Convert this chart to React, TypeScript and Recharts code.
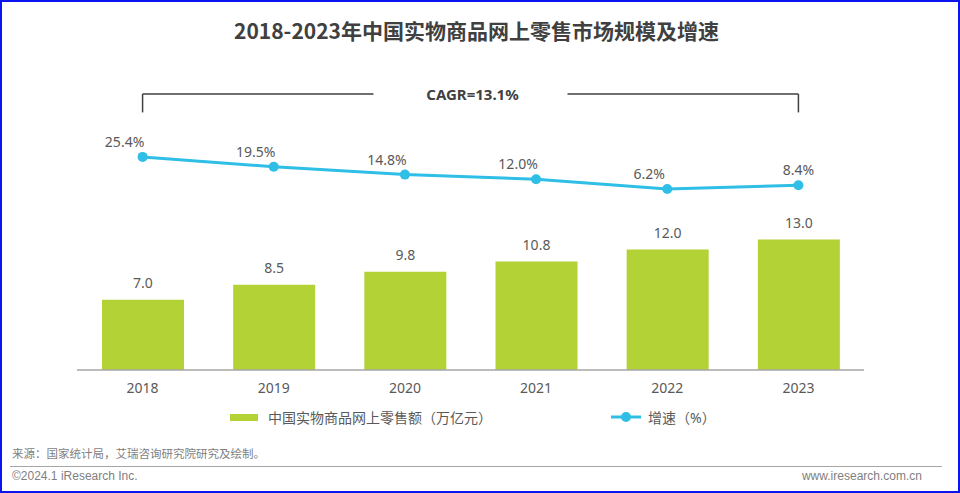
import React from "react";
import {
  Bar,
  ComposedChart,
  LabelList,
  Line,
  ReferenceLine,
  XAxis,
  YAxis,
} from "recharts";

const years = ["2018", "2019", "2020", "2021", "2022", "2023"];
const sales = [7.0, 8.5, 9.8, 10.8, 12.0, 13.0];
const growth = [25.4, 19.5, 14.8, 12.0, 6.2, 8.4];
const cagrText = "CAGR=13.1%";

const title = "2018-2023年中国实物商品网上零售市场规模及增速";
const salesName = "中国实物商品网上零售额（万亿元）";
const growthName = "增速（%）";
const source = "来源：国家统计局，艾瑞咨询研究院研究及绘制。";

const data = years.map((year, i) => ({
  year,
  sales: sales[i],
  growth: growth[i],
}));

const GREEN = "#b2d235";
const BLUE = "#2ebee6";
const TEXT = "#595959";
const DARK = "#404040";
const FONT = "'Noto Sans', 'Noto Sans CJK SC', sans-serif";

// bracket height on the growth axis
const BRACKET_TOP = 63;
const BRACKET_BOTTOM = 52;

const GrowthLabel = (props: any) => {
  const { x, y, value, index } = props;
  const last = index === growth.length - 1 || value === growth[growth.length - 1];
  return (
    <text
      x={x + (last ? 0 : -18)}
      y={y - 15}
      dy="0.35em"
      textAnchor="middle"
      fill={TEXT}
      fontSize={14}
    >
      {value.toFixed(1)}%
    </text>
  );
};

const CagrLabel = (props: any) => {
  const vb = props.viewBox || {};
  const cx = vb.x + (vb.width || 0) / 2;
  const cy = vb.y + (vb.height || 0) / 2;
  return (
    <g>
      <rect x={cx - 97} y={cy - 10} width={194} height={20} fill="#fff" />
      <text
        x={cx + 2}
        y={cy + 1}
        dy="0.35em"
        textAnchor="middle"
        fill={DARK}
        fontSize={15}
        fontWeight={700}
      >
        {cagrText}
      </text>
    </g>
  );
};

export default function App() {
  return (
    <div
      style={{
        position: "absolute",
        left: 0,
        top: 0,
        width: 960,
        height: 493,
        background: "#fff",
        fontFamily: FONT,
        overflow: "hidden",
      }}
    >
      <div
        style={{
          position: "absolute",
          top: 17,
          left: 0,
          width: 953,
          textAlign: "center",
          fontSize: 21,
          fontWeight: 700,
          color: DARK,
          fontFamily: "'Noto Sans CJK SC', sans-serif",
          lineHeight: "26px",
        }}
      >
        {title}
      </div>

      <div style={{ position: "absolute", left: 0, top: 0 }}>
        <ComposedChart
          width={960}
          height={400}
          data={data}
          margin={{ top: 99, right: 96, left: 77, bottom: 0 }}
        >
          <XAxis
            dataKey="year"
            height={30}
            tickLine={false}
            tickMargin={7}
            axisLine={{ stroke: "#a6a6a6", strokeWidth: 1.5 }}
            tick={{ fill: TEXT, fontSize: 14 }}
          />
          <YAxis yAxisId="left" hide domain={[0, 27]} />
          <YAxis yAxisId="right" orientation="right" hide domain={[-102, 60]} />
          <Bar
            yAxisId="left"
            dataKey="sales"
            fill={GREEN}
            barSize={82}
            isAnimationActive={false}
          >
            <LabelList
              dataKey="sales"
              position="top"
              offset={12}
              fill={TEXT}
              fontSize={14}
              formatter={(v: any) => Number(v).toFixed(1)}
            />
          </Bar>
          <Line
            yAxisId="right"
            dataKey="growth"
            stroke={BLUE}
            strokeWidth={3}
            dot={{ r: 5, fill: BLUE, stroke: BLUE, strokeWidth: 0 }}
            activeDot={false}
            isAnimationActive={false}
          >
            <LabelList dataKey="growth" content={GrowthLabel} />
          </Line>
          <ReferenceLine
            yAxisId="right"
            ifOverflow="visible"
            segment={[
              { x: years[0], y: BRACKET_BOTTOM },
              { x: years[0], y: BRACKET_TOP },
            ]}
            stroke={DARK}
            strokeWidth={1.5}
          />
          <ReferenceLine
            yAxisId="right"
            ifOverflow="visible"
            segment={[
              { x: years[years.length - 1], y: BRACKET_BOTTOM },
              { x: years[years.length - 1], y: BRACKET_TOP },
            ]}
            stroke={DARK}
            strokeWidth={1.5}
          />
          <ReferenceLine
            yAxisId="right"
            ifOverflow="visible"
            segment={[
              { x: years[0], y: BRACKET_TOP },
              { x: years[years.length - 1], y: BRACKET_TOP },
            ]}
            stroke={DARK}
            strokeWidth={1.5}
            label={<CagrLabel />}
          />
        </ComposedChart>
      </div>

      {/* legend */}
      <div
        style={{
          position: "absolute",
          top: 408,
          left: 230,
          height: 18,
          display: "flex",
          alignItems: "center",
          fontSize: 14,
          color: TEXT,
        }}
      >
        <span
          style={{ width: 28, height: 7, background: GREEN, marginRight: 10 }}
        />
        <span>{salesName}</span>
      </div>
      <div
        style={{
          position: "absolute",
          top: 408,
          left: 611,
          height: 18,
          display: "flex",
          alignItems: "center",
          fontSize: 14,
          color: TEXT,
        }}
      >
        <svg width={30} height={12} style={{ marginRight: 7 }}>
          <line x1={0} y1={6} x2={30} y2={6} stroke={BLUE} strokeWidth={3} />
          <circle cx={15} cy={6} r={5} fill={BLUE} />
        </svg>
        <span>{growthName}</span>
      </div>

      {/* footer */}
      <div
        style={{
          position: "absolute",
          top: 446,
          left: 12,
          fontSize: 11.5,
          color: "#7f7f7f",
          lineHeight: "15px",
          fontFamily: "'Noto Sans CJK SC', sans-serif",
        }}
      >
        {source}
      </div>
      <div
        style={{
          position: "absolute",
          top: 466,
          left: 10,
          width: 932,
          height: 1,
          background: "#a6a6a6",
        }}
      />
      <div
        style={{
          position: "absolute",
          top: 469,
          left: 12,
          fontSize: 12,
          color: "#808080",
          lineHeight: "15px",
          fontFamily: "'Liberation Sans Narrow', 'Liberation Sans', sans-serif",
        }}
      >
        ©2024.1 iResearch Inc.
      </div>
      <div
        style={{
          position: "absolute",
          top: 469,
          right: 38,
          fontSize: 12,
          color: "#808080",
          lineHeight: "15px",
          fontFamily: "'Liberation Sans Narrow', 'Liberation Sans', sans-serif",
        }}
      >
        www.iresearch.com.cn
      </div>

      {/* frame */}
      <div
        style={{
          position: "absolute",
          inset: 0,
          border: "2px solid #0a14f0",
          boxSizing: "border-box",
          pointerEvents: "none",
        }}
      />
    </div>
  );
}
